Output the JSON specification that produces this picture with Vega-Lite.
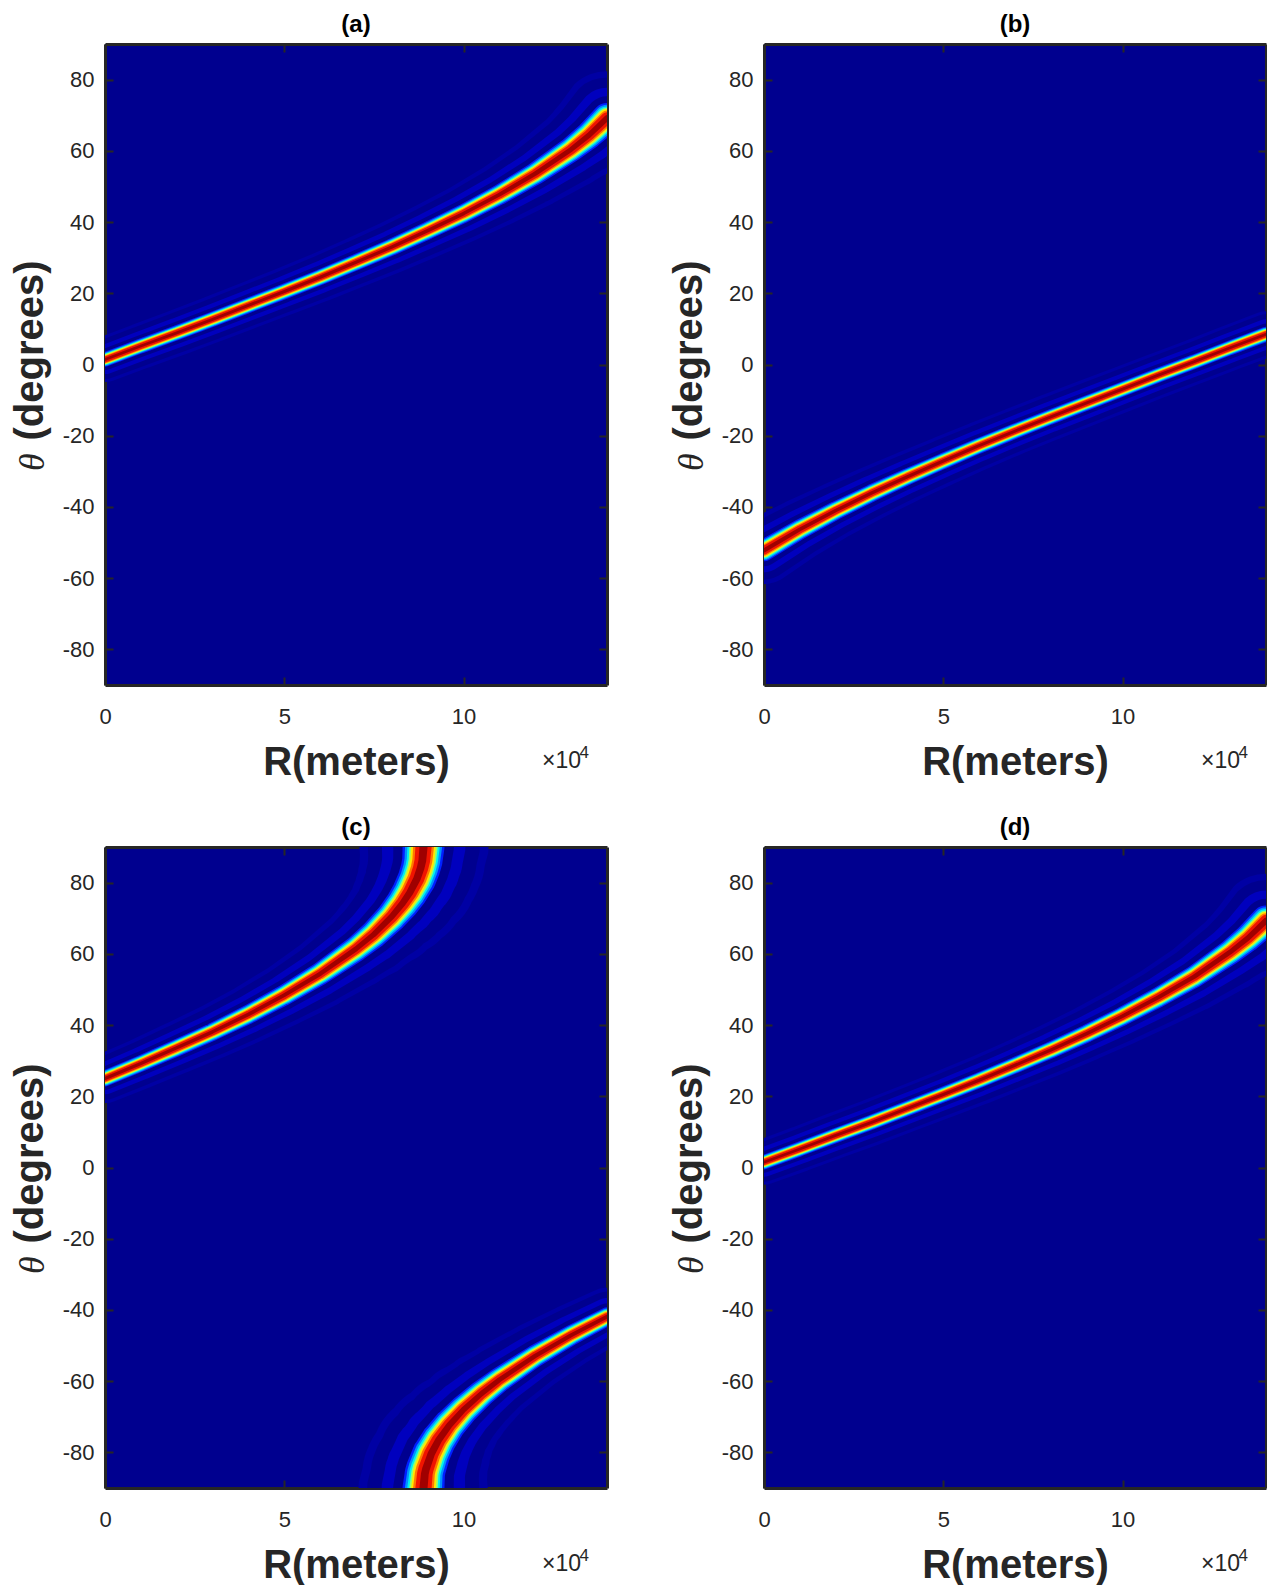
{
  "$schema": "https://vega.github.io/schema/vega-lite/v6.json",
  "autosize": "pad",
  "padding": {"left": 10, "top": 13, "right": 0, "bottom": 0},
  "background": "#ffffff",
  "config": {
    "font": "Liberation Sans",
    "view": {"fill": "#00008F", "stroke": null},
    "axis": {
      "grid": false,
      "domainColor": "#262626",
      "domainWidth": 3,
      "tickColor": "#262626",
      "tickWidth": 2,
      "tickSize": -8,
      "labelFont": "Liberation Sans",
      "labelFontSize": 22,
      "labelColor": "#262626",
      "labelFlush": false,
      "labelOverlap": false,
      "titleFont": "Liberation Sans",
      "titleFontSize": 40,
      "titleFontWeight": "bold",
      "titleColor": "#262626",
      "zindex": 1
    }
  },
  "data": {
    "values": [
      {"p": "(a)", "g": 1, "R": 0, "t": 1.4},
      {"p": "(a)", "g": 1, "R": 1, "t": 5.2},
      {"p": "(a)", "g": 1, "R": 2, "t": 8.9},
      {"p": "(a)", "g": 1, "R": 3, "t": 12.7},
      {"p": "(a)", "g": 1, "R": 4, "t": 16.6},
      {"p": "(a)", "g": 1, "R": 5, "t": 20.5},
      {"p": "(a)", "g": 1, "R": 6, "t": 24.5},
      {"p": "(a)", "g": 1, "R": 7, "t": 28.7},
      {"p": "(a)", "g": 1, "R": 8, "t": 33.0},
      {"p": "(a)", "g": 1, "R": 9, "t": 37.6},
      {"p": "(a)", "g": 1, "R": 10, "t": 42.4},
      {"p": "(a)", "g": 1, "R": 11, "t": 47.7},
      {"p": "(a)", "g": 1, "R": 12, "t": 53.6},
      {"p": "(a)", "g": 1, "R": 13, "t": 60.4},
      {"p": "(a)", "g": 1, "R": 13.5, "t": 64.4},
      {"p": "(a)", "g": 1, "R": 14, "t": 69.2},

      {"p": "(b)", "g": 1, "R": 0, "t": -52.2},
      {"p": "(b)", "g": 1, "R": 1, "t": -46.3},
      {"p": "(b)", "g": 1, "R": 2, "t": -41.0},
      {"p": "(b)", "g": 1, "R": 3, "t": -36.1},
      {"p": "(b)", "g": 1, "R": 4, "t": -31.5},
      {"p": "(b)", "g": 1, "R": 5, "t": -27.1},
      {"p": "(b)", "g": 1, "R": 6, "t": -22.8},
      {"p": "(b)", "g": 1, "R": 7, "t": -18.7},
      {"p": "(b)", "g": 1, "R": 8, "t": -14.7},
      {"p": "(b)", "g": 1, "R": 9, "t": -10.8},
      {"p": "(b)", "g": 1, "R": 10, "t": -6.9},
      {"p": "(b)", "g": 1, "R": 11, "t": -3.0},
      {"p": "(b)", "g": 1, "R": 12, "t": 0.8},
      {"p": "(b)", "g": 1, "R": 13, "t": 4.7},
      {"p": "(b)", "g": 1, "R": 14, "t": 8.5},

      {"p": "(c)", "g": 1, "R": 0, "t": 25.0},
      {"p": "(c)", "g": 1, "R": 1, "t": 29.2},
      {"p": "(c)", "g": 1, "R": 2, "t": 33.6},
      {"p": "(c)", "g": 1, "R": 3, "t": 38.1},
      {"p": "(c)", "g": 1, "R": 4, "t": 43.0},
      {"p": "(c)", "g": 1, "R": 5, "t": 48.4},
      {"p": "(c)", "g": 1, "R": 6, "t": 54.4},
      {"p": "(c)", "g": 1, "R": 7, "t": 61.4},
      {"p": "(c)", "g": 1, "R": 7.5, "t": 65.5},
      {"p": "(c)", "g": 1, "R": 8, "t": 70.5},
      {"p": "(c)", "g": 1, "R": 8.3, "t": 74.2},
      {"p": "(c)", "g": 1, "R": 8.5, "t": 77.2},
      {"p": "(c)", "g": 1, "R": 8.7, "t": 81.1},
      {"p": "(c)", "g": 1, "R": 8.8, "t": 84.0},
      {"p": "(c)", "g": 1, "R": 8.85, "t": 86.2},
      {"p": "(c)", "g": 1, "R": 8.883, "t": 90},
      {"p": "(c)", "g": 2, "R": 8.883, "t": -90},
      {"p": "(c)", "g": 2, "R": 8.92, "t": -86.0},
      {"p": "(c)", "g": 2, "R": 8.95, "t": -84.7},
      {"p": "(c)", "g": 2, "R": 9.1, "t": -80.4},
      {"p": "(c)", "g": 2, "R": 9.3, "t": -76.6},
      {"p": "(c)", "g": 2, "R": 9.6, "t": -72.4},
      {"p": "(c)", "g": 2, "R": 10, "t": -68.0},
      {"p": "(c)", "g": 2, "R": 10.5, "t": -63.5},
      {"p": "(c)", "g": 2, "R": 11, "t": -59.6},
      {"p": "(c)", "g": 2, "R": 12, "t": -52.9},
      {"p": "(c)", "g": 2, "R": 13, "t": -47.1},
      {"p": "(c)", "g": 2, "R": 14, "t": -41.9},

      {"p": "(d)", "g": 1, "R": 0, "t": 1.5},
      {"p": "(d)", "g": 1, "R": 1, "t": 5.2},
      {"p": "(d)", "g": 1, "R": 2, "t": 9.0},
      {"p": "(d)", "g": 1, "R": 3, "t": 12.7},
      {"p": "(d)", "g": 1, "R": 4, "t": 16.6},
      {"p": "(d)", "g": 1, "R": 5, "t": 20.5},
      {"p": "(d)", "g": 1, "R": 6, "t": 24.5},
      {"p": "(d)", "g": 1, "R": 7, "t": 28.7},
      {"p": "(d)", "g": 1, "R": 8, "t": 33.0},
      {"p": "(d)", "g": 1, "R": 9, "t": 37.6},
      {"p": "(d)", "g": 1, "R": 10, "t": 42.5},
      {"p": "(d)", "g": 1, "R": 11, "t": 47.8},
      {"p": "(d)", "g": 1, "R": 12, "t": 53.6},
      {"p": "(d)", "g": 1, "R": 13, "t": 60.5},
      {"p": "(d)", "g": 1, "R": 13.5, "t": 64.5},
      {"p": "(d)", "g": 1, "R": 14, "t": 69.3}
    ]
  },
  "facet": {
    "field": "p",
    "type": "nominal",
    "title": null,
    "header": {
      "labelFont": "Liberation Sans",
      "labelFontSize": 24,
      "labelFontWeight": "bold",
      "labelColor": "#000000",
      "labelPadding": 6
    }
  },
  "columns": 2,
  "spacing": {"row": 162, "column": 157},
  "bounds": "flush",
  "resolve": {"axis": {"x": "independent", "y": "independent"}},
  "spec": {
    "width": 502,
    "height": 641,
    "encoding": {
      "x": {"field": "R", "type": "quantitative", "scale": {"domain": [0, 14], "nice": false, "zero": false}, "axis": null},
      "y": {"field": "t", "type": "quantitative", "scale": {"domain": [-90, 90], "nice": false, "zero": false}, "axis": null},
      "detail": {"field": "g"}
    },
    "layer": [
      {
        "mark": {"type": "trail", "clip": true, "color": "#0000A4"},
        "encoding": {
          "x": {"field": "R", "type": "quantitative", "scale": {"domain": [0, 14], "nice": false, "zero": false},
                "axis": {"orient": "bottom", "values": [0, 5, 10], "title": "R(meters)", "labelPadding": 29, "titlePadding": 15, "labelExpr": "datum.value + ''"}},
          "y": {"field": "t", "type": "quantitative", "scale": {"domain": [-90, 90], "nice": false, "zero": false},
                "axis": {"orient": "left", "values": [-80, -60, -40, -20, 0, 20, 40, 60, 80], "title": "(degrees)", "titleY": 306, "labelPadding": 19, "titlePadding": 12, "labelExpr": "datum.value + ''"}},
          "size": {"field": "t", "type": "quantitative", "legend": null,
                   "scale": {"zero": false, "nice": false, "domain": [-90,-80,-70,-60,-50,-40,-30,-20,0,20,30,40,50,60,70,80,90],
                             "range": [129.9,117.5,95.3,77.2,64.7,56.4,50.9,47.5,45,47.5,50.9,56.4,64.7,77.2,95.3,117.5,129.9]}}
        }
      },
      {
        "mark": {"type": "trail", "clip": true, "color": "#00008F"},
        "encoding": {
          "x": {"field": "R", "type": "quantitative", "scale": {"domain": [0, 14], "nice": false, "zero": false},
                "axis": {"orient": "top", "values": [0, 5, 10], "title": null, "labels": false}},
          "y": {"field": "t", "type": "quantitative", "scale": {"domain": [-90, 90], "nice": false, "zero": false},
                "axis": {"orient": "right", "values": [-80, -60, -40, -20, 0, 20, 40, 60, 80], "title": null, "labels": false}},
          "size": {"field": "t", "type": "quantitative", "legend": null,
                   "scale": {"zero": false, "nice": false, "domain": [-90,-80,-70,-60,-50,-40,-30,-20,0,20,30,40,50,60,70,80,90],
                             "range": [112.6,101.9,82.6,66.9,56.1,48.9,44.1,41.2,39,41.2,44.1,48.9,56.1,66.9,82.6,101.9,112.6]}}
        }
      },
      {
        "mark": {"type": "trail", "clip": true, "color": "#0000BE"},
        "encoding": {
          "size": {"field": "t", "type": "quantitative", "legend": null,
                   "scale": {"zero": false, "nice": false, "domain": [-90,-80,-70,-60,-50,-40,-30,-20,0,20,30,40,50,60,70,80,90],
                             "range": [83.7,75.7,61.4,49.7,41.7,36.3,32.8,30.6,29,30.6,32.8,36.3,41.7,49.7,61.4,75.7,83.7]}}
        }
      },
      {
        "mark": {"type": "trail", "clip": true, "color": "#00008F"},
        "encoding": {
          "size": {"field": "t", "type": "quantitative", "legend": null,
                   "scale": {"zero": false, "nice": false, "domain": [-90,-80,-70,-60,-50,-40,-30,-20,0,20,30,40,50,60,70,80,90],
                             "range": [60.6,54.9,44.5,36.0,30.2,26.3,23.8,22.2,21,22.2,23.8,26.3,30.2,36.0,44.5,54.9,60.6]}}
        }
      },
      {
        "mark": {"type": "trail", "clip": true, "color": "#0020FF"},
        "encoding": {
          "size": {"field": "t", "type": "quantitative", "legend": null,
                   "scale": {"zero": false, "nice": false, "domain": [-90,-80,-70,-60,-50,-40,-30,-20,0,20,30,40,50,60,70,80,90],
                             "range": [41.9,37.9,30.7,24.9,20.9,18.2,16.4,15.3,14.5,15.3,16.4,18.2,20.9,24.9,30.7,37.9,41.9]}}
        }
      },
      {
        "mark": {"type": "trail", "clip": true, "color": "#0090FF"},
        "encoding": {
          "size": {"field": "t", "type": "quantitative", "legend": null,
                   "scale": {"zero": false, "nice": false, "domain": [-90,-80,-70,-60,-50,-40,-30,-20,0,20,30,40,50,60,70,80,90],
                             "range": [37.0,33.4,27.1,22.0,18.4,16.0,14.5,13.5,12.8,13.5,14.5,16.0,18.4,22.0,27.1,33.4,37.0]}}
        }
      },
      {
        "mark": {"type": "trail", "clip": true, "color": "#00F0F0"},
        "encoding": {
          "size": {"field": "t", "type": "quantitative", "legend": null,
                   "scale": {"zero": false, "nice": false, "domain": [-90,-80,-70,-60,-50,-40,-30,-20,0,20,30,40,50,60,70,80,90],
                             "range": [32.3,29.3,23.7,19.2,16.1,14.0,12.7,11.8,11.2,11.8,12.7,14.0,16.1,19.2,23.7,29.3,32.3]}}
        }
      },
      {
        "mark": {"type": "trail", "clip": true, "color": "#90FF70"},
        "encoding": {
          "size": {"field": "t", "type": "quantitative", "legend": null,
                   "scale": {"zero": false, "nice": false, "domain": [-90,-80,-70,-60,-50,-40,-30,-20,0,20,30,40,50,60,70,80,90],
                             "range": [28.3,25.6,20.8,16.8,14.1,12.3,11.1,10.3,9.8,10.3,11.1,12.3,14.1,16.8,20.8,25.6,28.3]}}
        }
      },
      {
        "mark": {"type": "trail", "clip": true, "color": "#FFE800"},
        "encoding": {
          "size": {"field": "t", "type": "quantitative", "legend": null,
                   "scale": {"zero": false, "nice": false, "domain": [-90,-80,-70,-60,-50,-40,-30,-20,0,20,30,40,50,60,70,80,90],
                             "range": [24.8,22.5,18.2,14.7,12.4,10.8,9.7,9.1,8.6,9.1,9.7,10.8,12.4,14.7,18.2,22.5,24.8]}}
        }
      },
      {
        "mark": {"type": "trail", "clip": true, "color": "#FF7800"},
        "encoding": {
          "size": {"field": "t", "type": "quantitative", "legend": null,
                   "scale": {"zero": false, "nice": false, "domain": [-90,-80,-70,-60,-50,-40,-30,-20,0,20,30,40,50,60,70,80,90],
                             "range": [20.8,18.8,15.2,12.3,10.4,9.0,8.2,7.6,7.2,7.6,8.2,9.0,10.4,12.3,15.2,18.8,20.8]}}
        }
      },
      {
        "mark": {"type": "trail", "clip": true, "color": "#F01400"},
        "encoding": {
          "size": {"field": "t", "type": "quantitative", "legend": null,
                   "scale": {"zero": false, "nice": false, "domain": [-90,-80,-70,-60,-50,-40,-30,-20,0,20,30,40,50,60,70,80,90],
                             "range": [16.2,14.6,11.9,9.6,8.1,7.0,6.3,5.9,5.6,5.9,6.3,7.0,8.1,9.6,11.9,14.6,16.2]}}
        }
      },
      {
        "mark": {"type": "trail", "clip": true, "color": "#A00000"},
        "encoding": {
          "size": {"field": "t", "type": "quantitative", "legend": null,
                   "scale": {"zero": false, "nice": false, "domain": [-90,-80,-70,-60,-50,-40,-30,-20,0,20,30,40,50,60,70,80,90],
                             "range": [8.1,7.3,5.9,4.8,4.0,3.5,3.2,3.0,2.8,3.0,3.2,3.5,4.0,4.8,5.9,7.3,8.1]}}
        }
      },
      {
        "transform": [{"filter": "datum.R == 0"}],
        "mark": {"type": "text", "text": "θ", "align": "center", "baseline": "middle", "angle": 270, "font": "Liberation Serif", "fontStyle": "italic", "fontSize": 36, "color": "#262626"},
        "encoding": {
          "x": {"datum": -2.0, "type": "quantitative", "scale": {"domain": [0, 14], "nice": false, "zero": false}, "axis": null},
          "y": {"datum": -27.4, "type": "quantitative", "scale": {"domain": [-90, 90], "nice": false, "zero": false}, "axis": null}
        }
      },
      {
        "transform": [{"filter": "datum.R == 0"}],
        "mark": {"type": "text", "text": "×10", "align": "right", "baseline": "alphabetic", "dx": -26, "dy": 83, "fontSize": 23, "color": "#262626"},
        "encoding": {
          "x": {"datum": 14, "type": "quantitative", "scale": {"domain": [0, 14], "nice": false, "zero": false}, "axis": null},
          "y": {"datum": -90, "type": "quantitative", "scale": {"domain": [-90, 90], "nice": false, "zero": false}, "axis": null}
        }
      },
      {
        "transform": [{"filter": "datum.R == 0"}],
        "mark": {"type": "text", "text": "4", "align": "right", "baseline": "alphabetic", "dx": -18, "dy": 73, "fontSize": 17, "color": "#262626"},
        "encoding": {
          "x": {"datum": 14, "type": "quantitative", "scale": {"domain": [0, 14], "nice": false, "zero": false}, "axis": null},
          "y": {"datum": -90, "type": "quantitative", "scale": {"domain": [-90, 90], "nice": false, "zero": false}, "axis": null}
        }
      }
    ],
    "resolve": {"scale": {"size": "independent"}, "axis": {"x": "independent", "y": "independent"}}
  }
}
